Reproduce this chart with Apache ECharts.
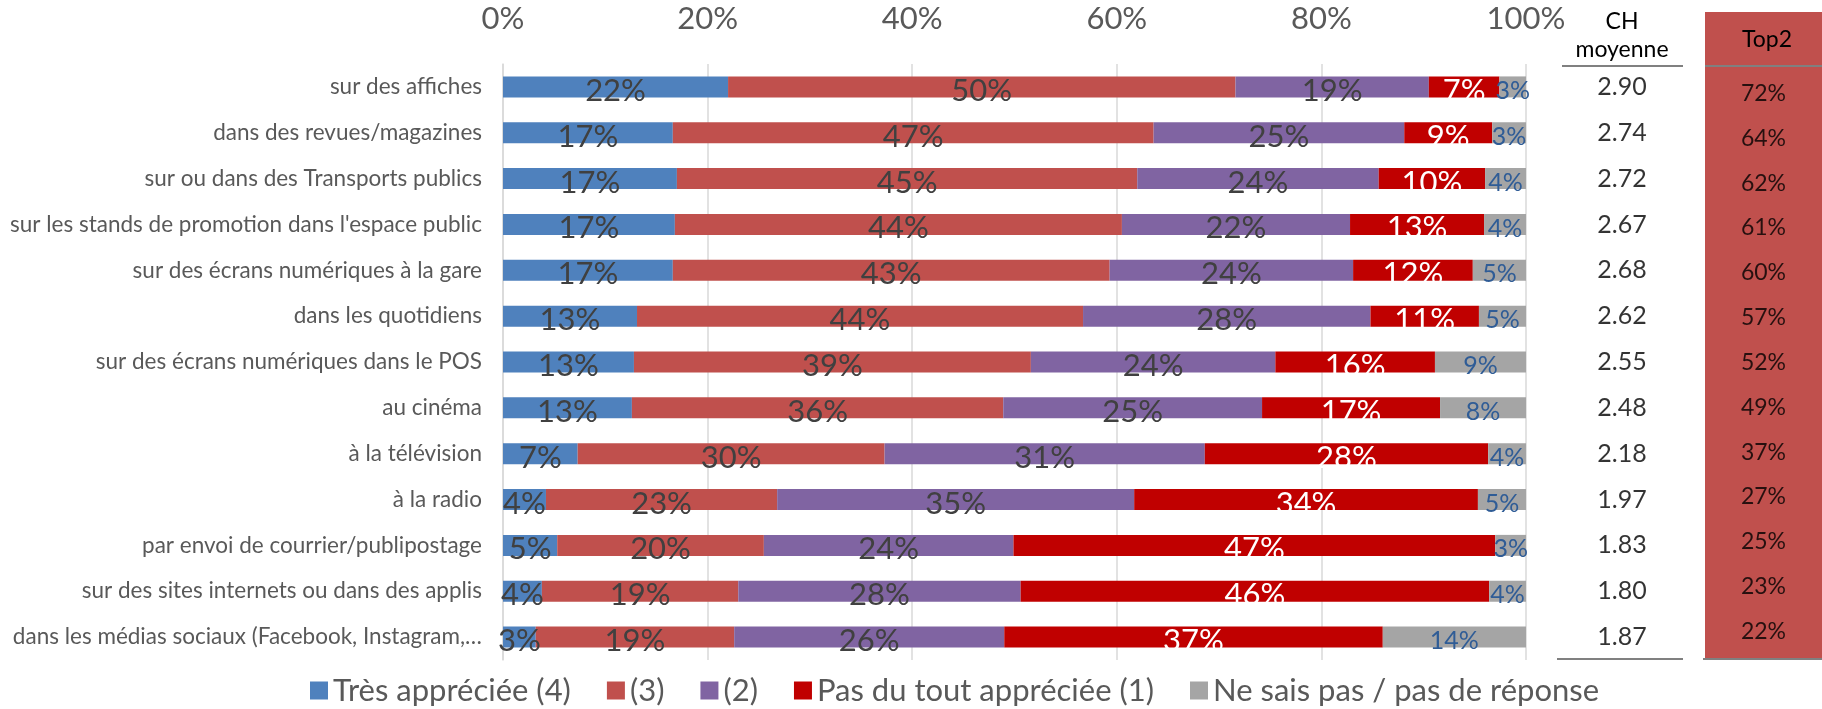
<!DOCTYPE html>
<html lang="fr">
<head>
    <meta charset="UTF-8">
    <title>Appréciation de la publicité selon le canal</title>
    <script src="https://cdn.jsdelivr.net/npm/echarts@6/dist/echarts.min.js"></script>
    <style>
        html, body { margin: 0; padding: 0; background: #fff; }
        #chart { width: 1822px; height: 709px; }
    </style>
</head>
<body>
    <div id="chart"></div>
    <script>
        var categories = [
            'sur des affiches',
            'dans des revues/magazines',
            'sur ou dans des Transports publics',
            "sur les stands de promotion dans l'espace public",
            'sur des écrans numériques à la gare',
            'dans les quotidiens',
            'sur des écrans numériques dans le POS',
            'au cinéma',
            'à la télévision',
            'à la radio',
            'par envoi de courrier/publipostage',
            'sur des sites internets ou dans des applis',
            'dans les médias sociaux (Facebook, Instagram,…'
        ];
        var seriesNames = ['Très appréciée (4)', '(3)', '(2)', 'Pas du tout appréciée (1)', 'Ne sais pas / pas de réponse'];
        var tres = [22.0, 16.6, 17.0, 16.8, 16.6, 13.1, 12.8, 12.6, 7.3, 4.2, 5.3, 3.8, 3.2];
        var note3 = [49.6, 47.0, 45.0, 43.7, 42.7, 43.6, 38.8, 36.3, 30.0, 22.6, 20.2, 19.2, 19.4];
        var note2 = [18.9, 24.5, 23.6, 22.3, 23.8, 28.1, 23.9, 25.3, 31.3, 34.9, 24.4, 27.6, 26.4];
        var pasDuTout = [6.9, 8.6, 10.4, 13.1, 11.7, 10.6, 15.6, 17.4, 27.7, 33.6, 47.1, 45.8, 37.0];
        var neSaisPas = [2.6, 3.3, 4.0, 4.1, 5.2, 4.6, 8.9, 8.4, 3.7, 4.7, 3.0, 3.6, 14.0];
        var chMoyenne = [2.90, 2.74, 2.72, 2.67, 2.68, 2.62, 2.55, 2.48, 2.18, 1.97, 1.83, 1.80, 1.87];
        var top2 = [72, 64, 62, 61, 60, 57, 52, 49, 37, 27, 25, 23, 22];

        var FONT = 'Lato';
        var colors = ['#4F81BD', '#C0504D', '#8064A2', '#C00000', '#A5A5A5'];
        var labelColors = ['#404040', '#404040', '#404040', '#FFFFFF', '#2F5C96'];
        var labelSizes = [31, 31, 31, 31, 25];
        var values = [tres, note3, note2, pasDuTout, neSaisPas];

        var barSeries = values.map(function(arr, k) {
            return {
                name: seriesNames[k],
                type: 'bar',
                stack: 'total',
                barWidth: 21,
                data: arr,
                itemStyle: { color: colors[k] },
                label: {
                    show: true,
                    position: 'inside',
                    offset: [0, 4],
                    color: labelColors[k],
                    fontFamily: FONT,
                    fontSize: labelSizes[k],
                    formatter: function(p) { return Math.round(p.value) + '%'; }
                }
            };
        });

        // colonnes du tableau à droite (CH moyenne, Top2)
        function tableSeries(idx, arr, fmt, size) {
            return {
                type: 'scatter',
                xAxisIndex: idx,
                yAxisIndex: idx,
                symbolSize: 1,
                itemStyle: { color: 'rgba(0,0,0,0)' },
                silent: true,
                data: arr.map(function(v, i) { return [0.5, i, v]; }),
                label: {
                    show: true,
                    position: 'inside',
                    color: '#000',
                    fontFamily: FONT,
                    fontSize: size,
                    formatter: function(p) { return fmt(p.value[2]); }
                }
            };
        }

        var chart = echarts.init(document.getElementById('chart'));
        chart.setOption({
            animation: false,
            textStyle: { fontFamily: FONT },
            legend: {
                data: seriesNames,
                left: 305,
                top: 670,
                icon: 'rect',
                itemWidth: 18,
                itemHeight: 18,
                itemGap: 36,
                textStyle: { fontSize: 31, color: '#595959', fontFamily: FONT }
            },
            grid: [
                { left: 503, right: 296, top: 64, bottom: 49, outerBoundsMode: 'none' },
                { left: 1562, width: 120, top: 64, bottom: 49, outerBoundsMode: 'none' },
                { left: 1705, right: 0, top: 71, bottom: 55, outerBoundsMode: 'none' }
            ],
            xAxis: [{
                type: 'value',
                position: 'top',
                min: 0,
                max: 100,
                interval: 20,
                axisLine: { show: false },
                axisTick: { show: false },
                splitLine: { lineStyle: { color: '#D9D9D9', width: 1.5 } },
                axisLabel: {
                    margin: 30,
                    fontSize: 31,
                    color: '#595959',
                    fontFamily: FONT,
                    formatter: '{value}%'
                }
            }, {
                gridIndex: 1, type: 'value', min: 0, max: 1, show: false
            }, {
                gridIndex: 2, type: 'value', min: 0, max: 1, show: false
            }],
            yAxis: [{
                type: 'category',
                data: categories,
                inverse: true,
                axisLine: { lineStyle: { color: '#D9D9D9', width: 1.5 } },
                axisTick: { show: false },
                axisLabel: {
                    margin: 21,
                    fontSize: 22.5,
                    color: '#595959',
                    fontFamily: FONT
                }
            }, {
                gridIndex: 1, type: 'category', data: categories, inverse: true, show: false
            }, {
                gridIndex: 2, type: 'category', data: categories, inverse: true, show: false
            }],
            graphic: [
                { type: 'rect', z: -1, shape: { x: 1705, y: 12, width: 117, height: 647 }, style: { fill: '#C0504D' } },
                { type: 'line', shape: { x1: 1705, y1: 66, x2: 1822, y2: 66 }, style: { stroke: '#808080', lineWidth: 2 } },
                { type: 'line', shape: { x1: 1562, y1: 66, x2: 1683, y2: 66 }, style: { stroke: '#808080', lineWidth: 2 } },
                { type: 'line', shape: { x1: 1557, y1: 659, x2: 1683, y2: 659 }, style: { stroke: '#808080', lineWidth: 2 } },
                { type: 'line', shape: { x1: 1703, y1: 659, x2: 1822, y2: 659 }, style: { stroke: '#808080', lineWidth: 2 } },
                { type: 'text', style: { x: 1622, y: 22, text: 'CH', fill: '#000', font: '23px Lato', align: 'center', verticalAlign: 'middle' } },
                { type: 'text', style: { x: 1622, y: 50, text: 'moyenne', fill: '#000', font: '23px Lato', align: 'center', verticalAlign: 'middle' } },
                { type: 'text', style: { x: 1767, y: 40, text: 'Top2', fill: '#000', font: '23px Lato', align: 'center', verticalAlign: 'middle' } }
            ],
            series: barSeries.concat([
                tableSeries(1, chMoyenne, function(v) { return v.toFixed(2); }, 25),
                tableSeries(2, top2, function(v) { return v + '%'; }, 23)
            ])
        });
    </script>
</body>
</html>
